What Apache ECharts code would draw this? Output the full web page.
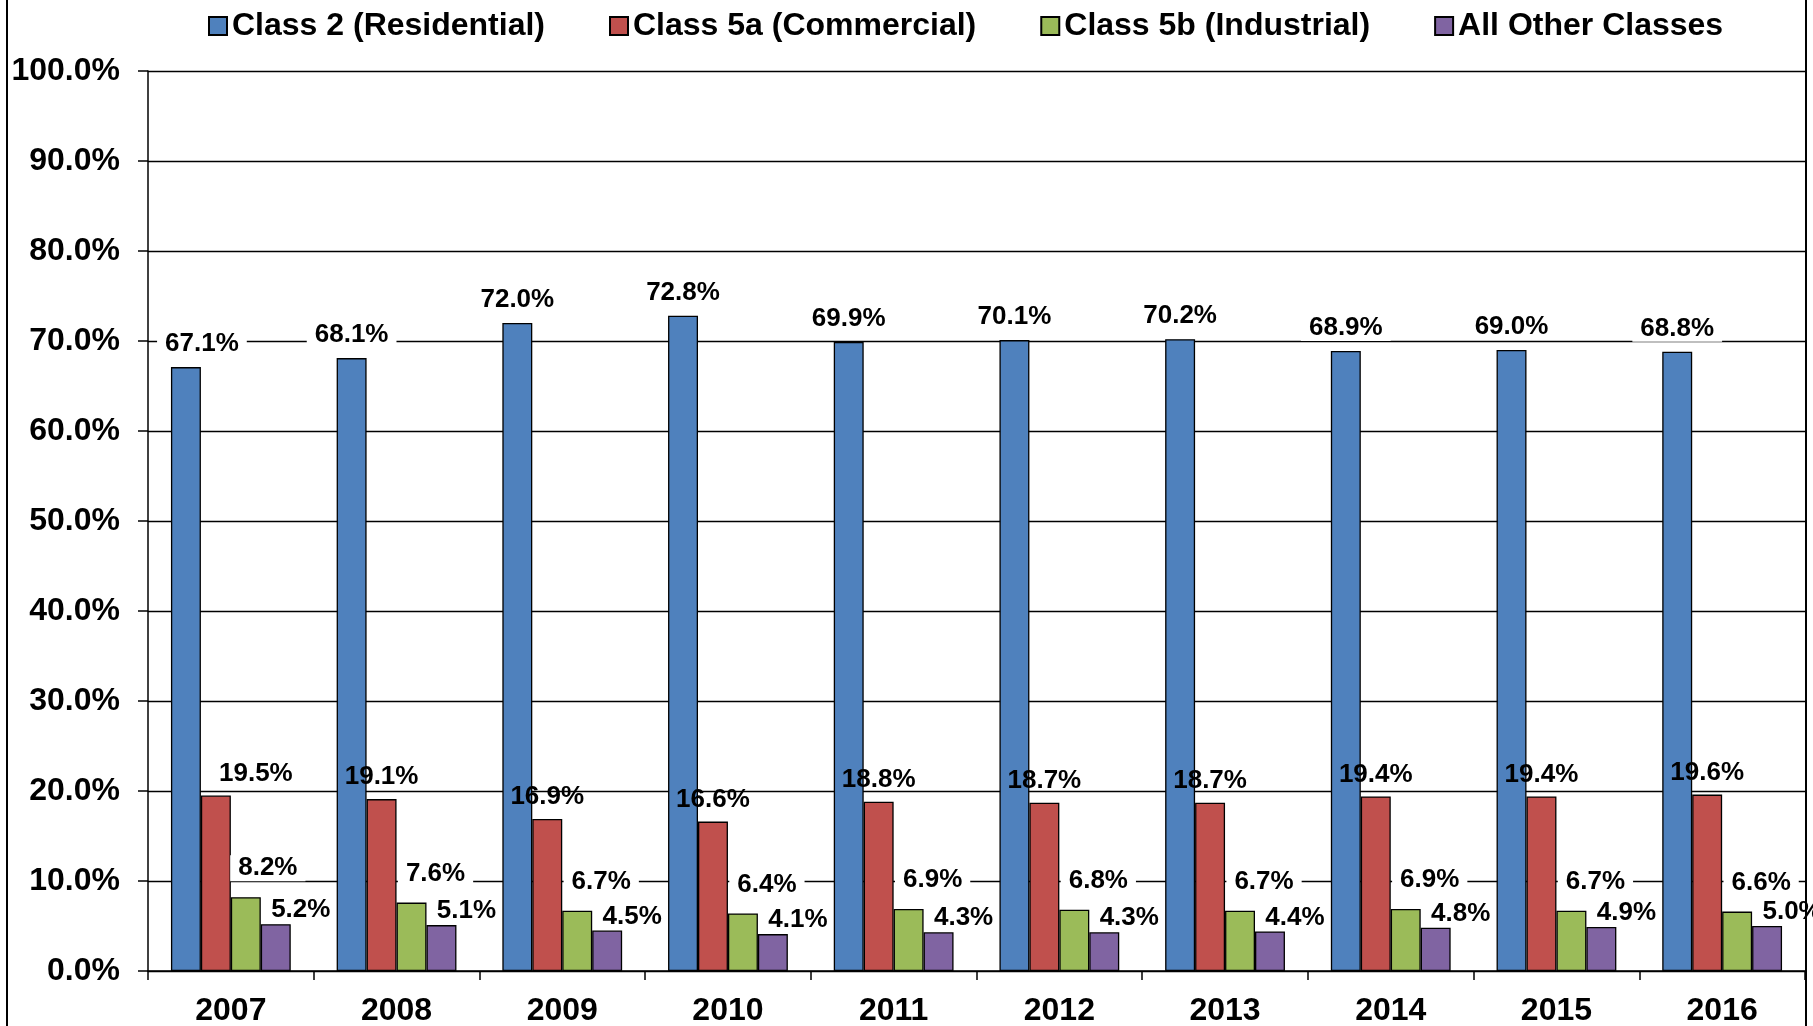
<!DOCTYPE html>
<html>
<head>
<meta charset="utf-8">
<script src="https://cdn.jsdelivr.net/npm/echarts@6/dist/echarts.min.js"></script>
<style>
  html, body { margin: 0; padding: 0; background: #fff; }
  #chart { width: 1813px; height: 1026px; }
</style>
</head>
<body>
<div id="chart"></div>
<script>
  const years = ["2007", "2008", "2009", "2010", "2011", "2012", "2013", "2014", "2015", "2016"];
  const seriesNames = ["Class 2 (Residential)", "Class 5a (Commercial)", "Class 5b (Industrial)", "All Other Classes"];
  const residential = [67.1, 68.1, 72.0, 72.8, 69.9, 70.1, 70.2, 68.9, 69.0, 68.8];
  const commercial = [19.5, 19.1, 16.9, 16.6, 18.8, 18.7, 18.7, 19.4, 19.4, 19.6];
  const industrial = [8.2, 7.6, 6.7, 6.4, 6.9, 6.8, 6.7, 6.9, 6.7, 6.6];
  const otherClasses = [5.2, 5.1, 4.5, 4.1, 4.3, 4.3, 4.4, 4.8, 4.9, 5.0];
  const yTicks = [0, 10, 20, 30, 40, 50, 60, 70, 80, 90, 100];

  const colors = ["#4F81BD", "#C0504D", "#9BBB59", "#8064A2"];
  const font = "'Liberation Sans', Arial, sans-serif";

  // label placement per series: x offset, distance above bar, 2007 nudge, white box or not
  const labelPlace = [
    { dx: 0, dist: 10, first: 16, box: true },
    { dx: 0, dist: 9, first: 40, box: false },
    { dx: 24, dist: 16, first: 22, box: true },
    { dx: 25, dist: 1, first: 25, box: false }
  ];

  const buildSeries = (name, values, i) => ({
    name: name,
    type: "bar",
    barGap: "0%",
    barCategoryGap: "27.7%",
    itemStyle: { color: colors[i], borderColor: "#000", borderWidth: 1.3 },
    label: {
      show: true,
      position: "top",
      distance: labelPlace[i].dist,
      offset: [labelPlace[i].dx, 0],
      formatter: (p) => p.value.toFixed(1) + "%",
      fontFamily: font,
      fontWeight: "bold",
      fontSize: 26,
      color: "#000",
      backgroundColor: labelPlace[i].box ? "#fff" : "transparent",
      padding: [0, 8]
    },
    data: values.map((v, k) =>
      k === 0 ? { value: v, label: { offset: [labelPlace[i].first, 0] } } : v
    )
  });

  const chart = echarts.init(document.getElementById("chart"));
  chart.setOption({
    animation: false,
    backgroundColor: "#fff",
    graphic: [
      {
        type: "rect",
        shape: { x: 7, y: -5, width: 1799, height: 1040 },
        style: { fill: "none", stroke: "#000", lineWidth: 2 },
        silent: true,
        z: 100
      }
    ],
    legend: {
      left: 203,
      top: 5,
      itemWidth: 18,
      itemHeight: 18,
      itemGap: 64,
      icon: "rect",
      textStyle: { fontFamily: font, fontWeight: "bold", fontSize: 32, color: "#000" },
      data: seriesNames
    },
    grid: {
      left: 148,
      right: 8,
      top: 71,
      bottom: 55,
      containLabel: false,
      outerBoundsMode: "none"
    },
    xAxis: {
      type: "category",
      data: years,
      axisLine: { lineStyle: { color: "#000", width: 1.5 } },
      axisTick: { show: true, length: 9, lineStyle: { color: "#000", width: 1.5 } },
      axisLabel: {
        margin: 24,
        fontFamily: font,
        fontWeight: "bold",
        fontSize: 32,
        color: "#000"
      }
    },
    yAxis: {
      type: "value",
      min: yTicks[0],
      max: yTicks[yTicks.length - 1],
      interval: 10,
      axisLine: { show: true, lineStyle: { color: "#000", width: 1.5 } },
      axisTick: { show: true, length: 10, lineStyle: { color: "#000", width: 1.5 } },
      splitLine: { show: true, lineStyle: { color: "#000", width: 1.3 } },
      axisLabel: {
        margin: 28,
        formatter: (v) => v.toFixed(1) + "%",
        fontFamily: font,
        fontWeight: "bold",
        fontSize: 32,
        color: "#000"
      }
    },
    series: [
      buildSeries(seriesNames[0], residential, 0),
      buildSeries(seriesNames[1], commercial, 1),
      buildSeries(seriesNames[2], industrial, 2),
      buildSeries(seriesNames[3], otherClasses, 3)
    ]
  });
</script>
</body>
</html>
